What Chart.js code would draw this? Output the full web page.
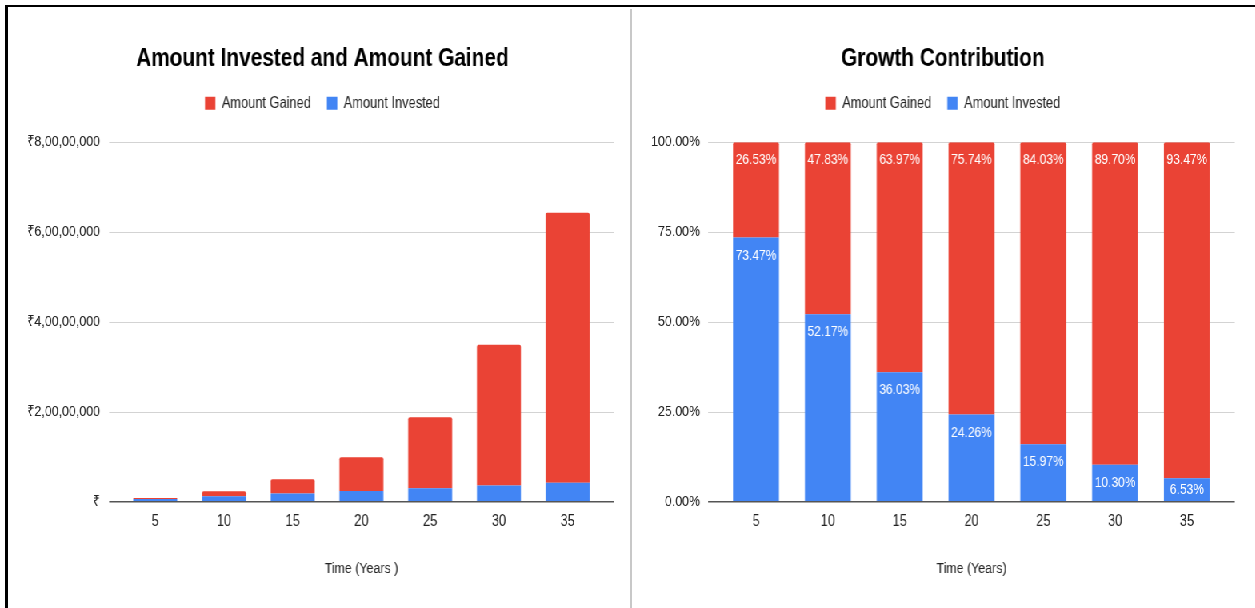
<!DOCTYPE html>
<html lang="en">
<head>
  <meta charset="UTF-8" />
  <title>Amount Invested and Growth Contribution</title>
  <script src="https://cdn.jsdelivr.net/npm/chart.js"></script>
  <style>
    html, body { margin: 0; padding: 0; background: #fff; }
    body { width: 1255px; height: 608px; overflow: hidden; position: relative; }
    .border-top { position: absolute; left: 5px; top: 5px; width: 1250px; height: 2px; background: #000; }
    .border-left { position: absolute; left: 5px; top: 5px; width: 3px; height: 603px; background: #000; }
    .divider { position: absolute; left: 630px; top: 9px; width: 2px; height: 599px; background: #c8c8c8; }
    /* the source screenshot is squeezed sideways, so the charts are laid out wider and scaled back */
    .stage { position: absolute; left: 0; top: 0; width: 1569px; height: 608px; transform: scaleX(0.8); transform-origin: 0 0; }
    .box { position: absolute; top: 8px; height: 600px; }
  </style>
</head>
<body>
  <div class="stage">
    <div class="box" style="left:10px; width:777.5px;"><canvas id="amountChart"></canvas></div>
    <div class="box" style="left:790px; width:778.75px;"><canvas id="shareChart"></canvas></div>
  </div>
  <div class="border-top"></div>
  <div class="border-left"></div>
  <div class="divider"></div>

  <script>
    // data
    const years = ['5', '10', '15', '20', '25', '30', '35'];
    const amountInvested = [600000, 1200000, 1800000, 2400000, 3000000, 3600000, 4200000];
    const amountGained = [216700, 1100200, 3195800, 7492800, 15785200, 31351500, 60118500];
    const investedShare = [73.47, 52.17, 36.03, 24.26, 15.97, 10.30, 6.53];
    const gainedShare = [26.53, 47.83, 63.97, 75.74, 84.03, 89.70, 93.47];
    const amountTicks = [0, 20000000, 40000000, 60000000, 80000000];
    const shareTicks = [0, 25, 50, 75, 100];

    const RED = '#ea4335';
    const BLUE = '#4285f4';
    const FONT = '"Liberation Sans", Arial, sans-serif';

    // ₹8,00,00,000 style (lakh / crore grouping)
    function inr(v) {
      if (v === 0) return '₹';
      const s = String(Math.round(v));
      const last3 = s.slice(-3);
      const rest = s.slice(0, -3).replace(/\B(?=(\d{2})+(?!\d))/g, ',');
      return '₹' + (rest ? rest + ',' : '') + last3;
    }

    // horizontal grid lines that run a bit past the outer bars, like Sheets does
    const gridLines = {
      id: 'gridLines',
      beforeDatasetsDraw(chart, args, opts) {
        const { ctx, chartArea, scales: { y } } = chart;
        ctx.save();
        ctx.strokeStyle = '#d3d3d3';
        ctx.lineWidth = 1;
        y.ticks.forEach((t, i) => {
          if (t.value === y.min) return;
          const py = Math.round(y.getPixelForTick(i)) + 0.5;
          ctx.beginPath();
          ctx.moveTo(chartArea.left - opts.extend, py);
          ctx.lineTo(chartArea.right + opts.extend, py);
          ctx.stroke();
        });
        ctx.restore();
      },
      afterDatasetsDraw(chart, args, opts) {
        const { ctx, chartArea, scales: { y } } = chart;
        const py = y.getPixelForValue(y.min);
        ctx.save();
        ctx.strokeStyle = '#555';
        ctx.lineWidth = 1.5;
        ctx.beginPath();
        ctx.moveTo(chartArea.left - opts.extend, py);
        ctx.lineTo(chartArea.right + opts.extend, py);
        ctx.stroke();
        ctx.restore();
      }
    };

    // white percentage labels near the top of each segment
    const barLabels = {
      id: 'barLabels',
      afterDatasetsDraw(chart) {
        const { ctx } = chart;
        ctx.save();
        ctx.font = '15px ' + FONT;
        ctx.fillStyle = '#fff';
        ctx.textAlign = 'center';
        ctx.textBaseline = 'middle';
        chart.data.datasets.forEach((ds, di) => {
          chart.getDatasetMeta(di).data.forEach((bar, i) => {
            const top = Math.min(bar.y, bar.base);
            const bottom = Math.max(bar.y, bar.base);
            const y = Math.min(top + 18, (top + bottom) / 2);
            ctx.fillText(ds.data[i].toFixed(2) + '%', bar.x, y);
          });
        });
        ctx.restore();
      }
    };

    function datasets(invested, gained) {
      const common = { borderRadius: 2, categoryPercentage: 0.64, barPercentage: 1 };
      return [
        { ...common, label: 'Amount Invested', data: invested, backgroundColor: BLUE },
        { ...common, label: 'Amount Gained', data: gained, backgroundColor: RED }
      ];
    }

    function chartOptions(cfg) {
      return {
        responsive: true,
        maintainAspectRatio: false,
        animation: false,
        layout: { padding: { left: cfg.padLeft, right: cfg.padRight, top: 0, bottom: 0 } },
        plugins: {
          title: {
            display: true, text: cfg.title, color: '#000',
            font: { family: FONT, size: 26, weight: 'bold' },
            padding: { top: 35, bottom: 1 }
          },
          // empty spacer between legend and plot
          subtitle: { display: true, text: '', weight: 500, font: { size: 1, lineHeight: 1 }, padding: { top: 20, bottom: 0 } },
          legend: {
            labels: {
              boxWidth: 13, boxHeight: 13, padding: 20, color: '#222',
              font: { family: FONT, size: 16 },
              sort: (a, b) => b.datasetIndex - a.datasetIndex
            }
          },
          tooltip: { enabled: false },
          gridLines: { extend: cfg.extend }
        },
        scales: {
          x: {
            stacked: true,
            grid: { display: false, drawTicks: false },
            border: { display: false },
            ticks: { color: '#222', font: { family: FONT, size: 16 }, padding: 10 },
            title: {
              display: true, text: cfg.xTitle, color: '#222',
              font: { family: FONT, size: 15.5 },
              padding: { top: 18.5, bottom: 30 }
            }
          },
          y: {
            stacked: true,
            min: cfg.ticks[0],
            max: cfg.ticks[cfg.ticks.length - 1],
            grid: { display: false, drawTicks: false },
            border: { display: false },
            ticks: { color: '#222', font: { family: FONT, size: 15.5 }, padding: cfg.tickPad, callback: cfg.fmt },
            afterBuildTicks: s => { s.ticks = cfg.ticks.map(v => ({ value: v })); },
            afterFit: s => { s.width = cfg.axisWidth; }
          },
          // blank right-hand axis, only keeps the gap on the right of the plot
          yGap: {
            position: 'right',
            grid: { display: false, drawTicks: false },
            border: { display: false },
            ticks: { display: false },
            afterFit: s => { s.width = cfg.gapRight; }
          }
        }
      };
    }

    new Chart(document.getElementById('amountChart'), {
      type: 'bar',
      data: { labels: years, datasets: datasets(amountInvested, amountGained) },
      options: chartOptions({
        title: 'Amount Invested and Amount Gained',
        xTitle: 'Time (Years )',
        ticks: amountTicks,
        fmt: v => inr(v),
        padLeft: 7.5,
        axisWidth: 133.4,
        tickPad: 26,
        padRight: 0,
        gapRight: 36,
        extend: 14.6
      }),
      plugins: [gridLines]
    });

    new Chart(document.getElementById('shareChart'), {
      type: 'bar',
      data: { labels: years, datasets: datasets(investedShare, gainedShare) },
      options: chartOptions({
        title: 'Growth Contribution',
        xTitle: 'Time (Years)',
        ticks: shareTicks,
        fmt: v => v.toFixed(2) + '%',
        padLeft: 0,
        axisWidth: 110,
        tickPad: 25,
        padRight: 2.75,
        gapRight: 38.5,
        extend: 15
      }),
      plugins: [gridLines, barLabels]
    });
  </script>
</body>
</html>
